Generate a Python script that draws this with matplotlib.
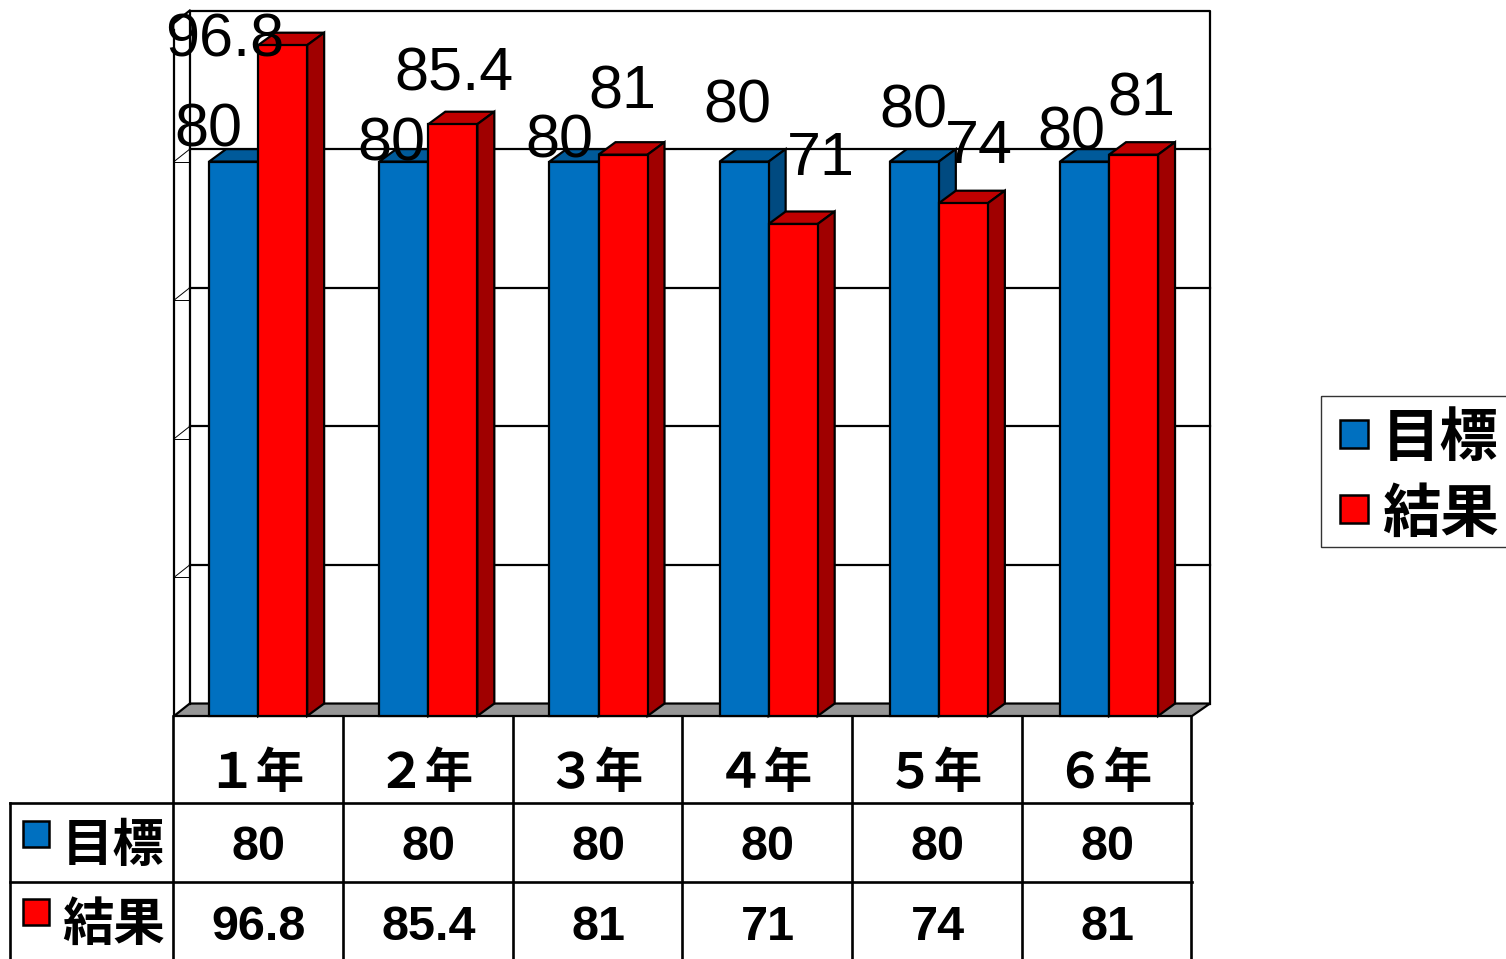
import matplotlib
matplotlib.use('Agg')
import matplotlib.pyplot as plt
from matplotlib.patches import Rectangle

plt.rcParams['font.family'] = ['Noto Sans CJK JP', 'DejaVu Sans']

W, H = 1506, 959

grades = ['１年', '２年', '３年', '４年', '５年', '６年']
series_names = ['目標', '結果']
target = [80, 80, 80, 80, 80, 80]
result = [96.8, 85.4, 81, 71, 74, 81]

# hand placed labels in the original, offset in px from the top of each bar
target_offs = [(-25, 31), (-12, 17), (-15, 20), (-7, 55), (-1, 50), (-13, 28)]
result_offs = [(-58, 4), (1, 49), (-1, 62), (28, 64), (15, 56), (8, 55)]

BLUE = ('#0070C0', '#005A9A', '#004A80')
RED = ('#FF0000', '#C00000', '#A00000')
LW = 1.6

fig = plt.figure(figsize=(W / 100, H / 100), dpi=100, facecolor='white')

# front plane of the 3d box, 0-100 on y
ax = fig.add_axes([174 / W, (H - 716) / H, 1018 / W, 693 / H])
ax.set_xlim(-0.5, 5.5)
ax.set_ylim(0, 100)
ax.axis('off')

DX, DY = 0.1, 1.8  # depth in data units
BW = 0.289
x0, x1 = -0.5, 5.5
back_l, back_r = x0 + 0.093, x1 + 0.106
STEP = 1.003  # bars drift slightly from the table columns in the original


def line(xs, ys, lw=LW, z=2):
    ax.plot(xs, ys, color='black', lw=lw, clip_on=False, zorder=z, solid_capstyle='projecting')


# walls and floor
ax.fill([x0, x1, back_r, back_l], [0, 0, DY, DY], color='#969696', ec='black', lw=LW, clip_on=False, zorder=1)
line([back_l, back_l, back_r, back_r], [DY, 100 + DY, 100 + DY, DY])
line([x0, x0], [0, 100 - 1])
line([x0, back_l], [100, 100 + DY], lw=LW)
for v in [20, 40, 60, 80]:
    line([back_l, back_r], [v + DY, v + DY])
    line([x0, back_l], [v, v + DY], lw=0.7)
    line([x0, back_l], [v, v], lw=0.7)


def bars3d(xs, vals, cols, z):
    ax.bar(xs, vals, BW, color=cols[0], ec='black', lw=LW, clip_on=False, zorder=z + 1)
    for x, v in zip(xs, vals):
        l, r = x - BW / 2, x + BW / 2
        ax.fill([l, r, r + DX, l + DX], [v, v, v + DY, v + DY], fc=cols[1], ec='black', lw=LW, clip_on=False, zorder=z)
        ax.fill([r, r + DX, r + DX, r], [0, DY, v + DY, v], fc=cols[2], ec='black', lw=LW, clip_on=False, zorder=z)


cats = [c * STEP - 0.004 for c in range(len(grades))]
x_t = [c - BW / 2 for c in cats]
x_r = [c + BW / 2 for c in cats]
for c in range(len(cats)):
    bars3d([x_t[c]], [target[c]], BLUE, 3)
    bars3d([x_r[c]], [result[c]], RED, 5)

for xs, vals, offs in [(x_t, target, target_offs), (x_r, result, result_offs)]:
    for x, v, off in zip(xs, vals, offs):
        ax.annotate(f'{v:g}', (x, v), xytext=off, textcoords='offset pixels', ha='center', va='center',
                    fontsize=44, family='Liberation Sans', color='black', zorder=10, annotation_clip=False)

# table + legend in pixel coords
ov = fig.add_axes([0, 0, 1, 1], facecolor='none')
ov.set_xlim(0, W)
ov.set_ylim(H, 0)
ov.axis('off')

TB_L, TB_X, TB_R = 10, 174, 1192
ROW0, ROW1, ROW2 = 716, 803, 882
col_w = (TB_R - TB_X) / 6
TBL = 1.9

for i in range(7):
    ov.plot([TB_X + i * col_w - 0.5] * 2, [ROW0, H], color='black', lw=TBL)
ov.plot([TB_L, TB_L], [ROW1, H], color='black', lw=TBL)
ov.plot([TB_L, TB_R], [ROW1, ROW1], color='black', lw=TBL)
ov.plot([TB_L, TB_R], [ROW2, ROW2], color='black', lw=TBL)

for i, g in enumerate(grades):
    cx = TB_X + (i + 0.5) * col_w
    ov.text(cx - 3, 773, g, ha='center', va='center', fontsize=35, fontweight='bold')
    ov.text(cx, 848, f'{target[i]:g}', ha='center', va='center', fontsize=35, fontweight='bold', family='Liberation Sans')
    ov.text(cx, 927, f'{result[i]:g}', ha='center', va='center', fontsize=35, fontweight='bold', family='Liberation Sans')

row_sw = [(23, 821), (23, 899)]
row_y = [846, 924]
leg_sw = [(1340, 420), (1340, 495)]
leg_y = [439, 515]
for k, (name, cols) in enumerate(zip(series_names, [BLUE, RED])):
    ov.add_patch(Rectangle(row_sw[k], 26, 26, fc=cols[0], ec='black', lw=1.8))
    ov.text(165, row_y[k], name, ha='right', va='center', fontsize=37, fontweight='bold')
    ov.add_patch(Rectangle(leg_sw[k], 28, 28, fc=cols[0], ec='black', lw=1.8))
    ov.text(1499, leg_y[k], name, ha='right', va='center', fontsize=42, fontweight='bold')

ov.add_patch(Rectangle((1321, 396), 200, 151, fc='none', ec='#333333', lw=1.0, clip_on=True))

fig.savefig('out.png', dpi=100)
